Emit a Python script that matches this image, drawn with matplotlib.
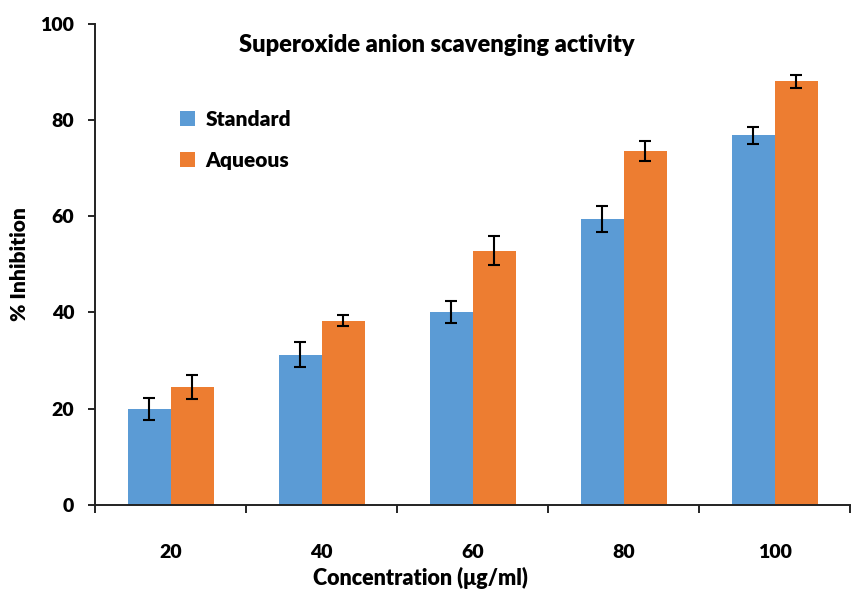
import matplotlib
matplotlib.use('Agg')
import numpy as np
import matplotlib.pyplot as plt

# Data
concentrations = ['20', '40', '60', '80', '100']
standard = [20.0, 31.2, 40.1, 59.4, 76.8]
standard_err = [2.3, 2.6, 2.3, 2.7, 1.7]
aqueous = [24.5, 38.3, 52.8, 73.5, 88.0]
aqueous_err = [2.4, 1.2, 3.0, 2.1, 1.4]

plt.rcParams['font.family'] = ['Lato', 'DejaVu Sans']
BOLD = 'heavy'

fig = plt.figure(figsize=(8.57, 5.94), dpi=100)
ax = fig.add_axes([0.111, 0.150, 0.881, 0.810])

x = np.arange(len(concentrations))
w = 0.285
err_kw = dict(ecolor='black', elinewidth=1.5, capsize=4, capthick=1.5)
ax.bar(x - w / 2, standard, w, yerr=standard_err, color='#5B9BD5',
       label='Standard', error_kw=err_kw)
ax.bar(x + w / 2, aqueous, w, yerr=aqueous_err, color='#ED7D31',
       label='Aqueous', error_kw=err_kw)

ax.set_xlim(-0.5, len(concentrations) - 0.5)
ax.set_ylim(0, 100)
ax.set_yticks([0, 20, 40, 60, 80, 100])
ax.set_xticks(x)
ax.set_xticklabels(concentrations)
ax.set_xticks(np.arange(-0.5, len(concentrations)), minor=True)
ax.tick_params(axis='x', which='major', length=0, pad=28)
ax.tick_params(axis='x', which='minor', length=6, width=1.2, direction='out')
ax.tick_params(axis='y', length=5, width=1.2, pad=10)
for lbl in ax.get_xticklabels() + ax.get_yticklabels():
    lbl.set_fontsize(14)
    lbl.set_fontweight(BOLD)

for side in ['top', 'right']:
    ax.spines[side].set_visible(False)
for side in ['left', 'bottom']:
    ax.spines[side].set_linewidth(1.4)
    ax.spines[side].set_color('#222222')

# axis titles placed like the original (x title sits left of centre)
fig.text(420 / 857, 1 - 578 / 594, 'Concentration (μg/ml)', ha='center', va='center',
         fontsize=15.5, fontweight=BOLD)
fig.text(20 / 857, 1 - 264 / 594, '% Inhibition', ha='center', va='center',
         rotation=90, fontsize=15, fontweight=BOLD)
ax.text(0.453, 0.955, 'Superoxide anion scavenging activity', transform=ax.transAxes,
        ha='center', va='center', fontsize=17, fontweight=BOLD)

ax.legend(loc='upper left', bbox_to_anchor=(0.088, 0.86), frameon=False,
          prop={'weight': BOLD, 'size': 15},
          handlelength=0.7, handleheight=0.7, handletextpad=0.5, labelspacing=1.05)

fig.savefig('out.png', dpi=100)
plt.close(fig)
